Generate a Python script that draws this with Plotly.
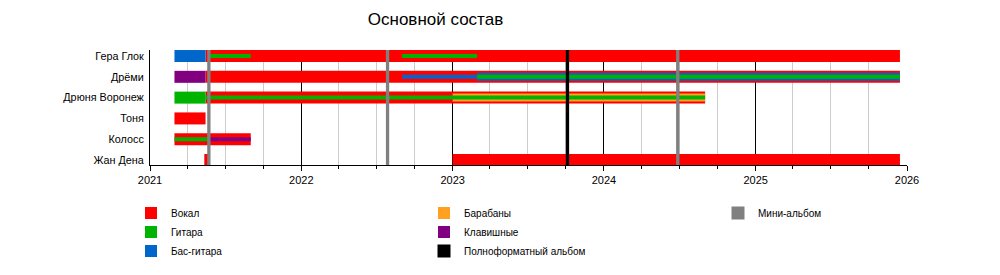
import plotly.graph_objects as go
import pandas as pd

# ---------------- data ----------------
members = ["Гера Глок", "Дрёми", "Дрюня Воронеж", "Тоня", "Колосс", "Жан Дена"]

roles = ["Вокал", "Гитара", "Бас-гитара", "Барабаны", "Клавишные"]
role_colors = ["#FF0000", "#00B300", "#0066CC", "#FFA020", "#800080"]

# primary roles (full-height bars)
main_member = ["Гера Глок", "Гера Глок", "Дрёми", "Дрёми", "Дрюня Воронеж", "Дрюня Воронеж",
               "Тоня", "Колосс", "Жан Дена", "Жан Дена"]
main_role = ["Бас-гитара", "Вокал", "Клавишные", "Вокал", "Гитара", "Вокал",
             "Вокал", "Вокал", "Вокал", "Вокал"]
main_start = ["2021-03-01", "2021-05-15", "2021-03-01", "2021-05-15", "2021-03-01", "2021-05-15",
              "2021-03-01", "2021-03-01", "2021-05-12", "2023-01-01"]
main_end = ["2021-05-15", "2025-12-15", "2021-05-15", "2025-12-15", "2021-05-15", "2024-09-01",
            "2021-05-15", "2021-09-01", "2021-05-22", "2025-12-15"]

# secondary roles (medium bars)
second_member = ["Дрёми", "Дрюня Воронеж"]
second_role = ["Бас-гитара", "Барабаны"]
second_start = ["2023-03-01", "2023-01-01"]
second_end = ["2025-12-15", "2024-09-01"]

# tertiary roles (thin bars)
third_member = ["Гера Глок", "Гера Глок", "Дрёми", "Дрёми", "Дрюня Воронеж", "Колосс", "Колосс"]
third_role = ["Гитара", "Гитара", "Бас-гитара", "Гитара", "Гитара", "Гитара", "Клавишные"]
third_start = ["2021-05-23", "2022-09-01", "2022-09-01", "2023-03-01", "2021-05-15", "2021-03-01", "2021-05-23"]
third_end = ["2021-09-01", "2023-03-01", "2023-03-01", "2025-12-15", "2024-09-01", "2021-05-23", "2021-09-01"]

# releases
ep_dates = ["2021-05-23", "2022-07-28", "2024-06-27"]
lp_dates = ["2023-10-05"]
ep_name = "Мини-альбом"
lp_name = "Полноформатный альбом"

x_range = ["2021-01-01", "2026-01-01"]
title_text = "Основной состав"

# ---------------- figure ----------------
FONT = "Liberation Sans, Arial, sans-serif"
ROW_PX = 20.8
tiers = [
    (main_member, main_role, main_start, main_end, 12 / ROW_PX),
    (second_member, second_role, second_start, second_end, 8 / ROW_PX),
    (third_member, third_role, third_start, third_end, 4 / ROW_PX),
]

legend_of = {"Вокал": ("legend", 1), "Гитара": ("legend", 2), "Бас-гитара": ("legend", 3),
             "Барабаны": ("legend2", 1), "Клавишные": ("legend2", 2)}

fig = go.Figure()
shown = set()
for mem, rol, st, en, w in tiers:
    df = pd.DataFrame({"m": mem, "r": rol, "s": pd.to_datetime(st), "e": pd.to_datetime(en)})
    for role, color in zip(roles, role_colors):
        sub = df[df.r == role]
        if sub.empty:
            continue
        lg, rank = legend_of[role]
        fig.add_trace(go.Bar(
            orientation="h",
            y=sub.m,
            base=sub.s.dt.strftime("%Y-%m-%d"),
            x=(sub.e - sub.s).dt.total_seconds() * 1000,
            width=w,
            marker=dict(color=color, line=dict(width=0)),
            name=role,
            legendgroup=role,
            showlegend=role not in shown,
            legend=lg,
            legendrank=rank,
            hoverinfo="skip",
        ))
        shown.add(role)

# release legend entries
fig.add_trace(go.Scatter(x=[None], y=[None], mode="markers", name=lp_name,
                         marker=dict(symbol="square", size=13, color="#000000"),
                         legend="legend2", legendrank=3))
fig.add_trace(go.Scatter(x=[None], y=[None], mode="markers", name=ep_name,
                         marker=dict(symbol="square", size=13, color="#808080"),
                         legend="legend3", legendrank=1))

shapes = []
for d in ep_dates:
    shapes.append(dict(type="line", xref="x", yref="y domain", x0=d, x1=d, y0=0, y1=1,
                       line=dict(color="#808080", width=3.3), layer="above"))
for d in lp_dates:
    shapes.append(dict(type="line", xref="x", yref="y domain", x0=d, x1=d, y0=0, y1=1,
                       line=dict(color="#000000", width=3.3), layer="above"))

leg_common = dict(xref="container", yref="container", xanchor="left", yanchor="top",
                  font=dict(family=FONT, size=10, color="#000000"),
                  bgcolor="rgba(0,0,0,0)", borderwidth=0, tracegroupgap=0,
                  itemclick=False, itemdoubleclick=False)
LEG_TOP = 1 - 198.5 / 275

fig.update_layout(
    width=1000, height=275,
    margin=dict(l=150, r=93, t=50, b=110, autoexpand=False),
    paper_bgcolor="white", plot_bgcolor="white",
    barmode="overlay",
    font=dict(family=FONT, size=11, color="#000000"),
    title=dict(text=title_text, x=0.4355, xanchor="center", y=1 - 19 / 275, yanchor="middle",
               xref="container", yref="container",
               font=dict(family=FONT, size=17, color="#000000")),
    shapes=shapes,
    legend=dict(x=131 / 1000, y=LEG_TOP, **leg_common),
    legend2=dict(x=424 / 1000, y=LEG_TOP, **leg_common),
    legend3=dict(x=718 / 1000, y=LEG_TOP, **leg_common),
    xaxis=dict(
        type="date", range=x_range,
        tick0="2021-01-01", dtick="M12", tickformat="%Y",
        ticks="outside", ticklen=5, tickcolor="#000000", tickwidth=1,
        showgrid=True, gridcolor="#000000", gridwidth=1,
        showline=True, linecolor="#000000", linewidth=1,
        zeroline=False, tickangle=0,
        tickfont=dict(family=FONT, size=11, color="#000000"),
        minor=dict(dtick="M3", tick0="2021-01-01", ticks="outside", ticklen=3,
                   tickcolor="#000000", showgrid=True, gridcolor="#cccccc", gridwidth=1),
        fixedrange=True,
    ),
    yaxis=dict(
        type="category", categoryorder="array", categoryarray=members,
        range=[5.24, -0.29],
        showgrid=False, zeroline=False,
        showline=True, linecolor="#000000", linewidth=1,
        ticks="", ticklabelstandoff=3,
        tickfont=dict(family=FONT, size=10.8, color="#000000"),
        fixedrange=True,
    ),
)

fig.write_html("out.html")
